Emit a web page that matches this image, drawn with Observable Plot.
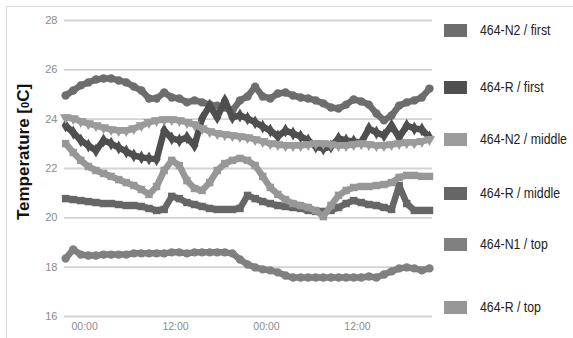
<!DOCTYPE html>
<html><head><meta charset="utf-8">
<script src="https://cdn.jsdelivr.net/npm/d3@7"></script>
<script src="https://cdn.jsdelivr.net/npm/@observablehq/plot@0.6"></script>
<style>
body{margin:0;background:#fff;}
#wrap{position:relative;width:573px;height:338px;overflow:hidden;font-family:"Liberation Sans",Arial,sans-serif;background:#fff}
#frameL{position:absolute;left:6px;top:6px;width:1px;height:340px;background:#dcdcdc}
#frameT{position:absolute;left:6px;top:6px;width:570px;height:1px;background:#dcdcdc}
#chart{position:absolute;left:0;top:0}
#ylab{position:absolute;left:0;top:0}
.leg{position:absolute;left:444px;height:14px;display:flex;align-items:center}
.sw{width:23px;height:13px;flex:none}
.lt{margin-left:13px;font-size:14px;color:#222;transform:scaleX(0.88);transform-origin:left center;white-space:nowrap}
</style></head><body>
<div id="wrap">
  <div id="frameL"></div><div id="frameT"></div>
  <div id="chart"></div>
  <svg id="ylab" width="40" height="338">
    <text transform="translate(29,152) rotate(-90)" text-anchor="middle" font-family="Liberation Sans, Arial, sans-serif" font-weight="bold" font-size="17" fill="#111">Temperature [<tspan font-size="11">0</tspan>C]</text>
  </svg>
  <div id="legend"></div>
</div>
<script>
const hours = [-2.5,-1.5,-0.5,0.5,1.5,2.5,3.5,4.5,5.5,6.5,7.5,8.5,9.5,10.5,11.5,12.5,13.5,14.5,15.5,16.5,17.5,18.5,19.5,20.5,21.5,22.5,23.5,24.5,25.5,26.5,27.5,28.5,29.5,30.5,31.5,32.5,33.5,34.5,35.5,36.5,37.5,38.5,39.5,40.5,41.5,42.5,43.5,44.5,45.5];

const n2First = [24.96,25.16,25.37,25.49,25.61,25.65,25.65,25.57,25.49,25.32,25.16,24.84,24.84,25.08,24.88,24.84,24.68,24.76,24.68,24.59,24.55,24.47,24.35,24.76,24.92,25.32,24.92,24.84,25.04,25.08,24.96,24.88,24.84,24.76,24.64,24.47,24.43,24.59,24.80,24.72,24.59,24.23,23.95,24.15,24.55,24.68,24.76,24.88,25.24];
const rFirst = [23.74,23.46,23.14,22.93,22.73,23.14,23.01,22.85,22.69,22.53,22.45,22.41,22.37,23.54,23.22,23.14,23.26,22.93,24.03,24.55,24.07,24.76,24.07,24.15,24.03,23.87,23.70,23.54,23.30,23.54,23.42,23.30,23.14,22.89,22.81,22.89,23.22,23.14,23.10,23.05,23.62,23.46,23.34,23.74,23.26,23.74,23.62,23.58,23.26];
const n2Middle = [24.07,24.03,23.91,23.82,23.74,23.66,23.58,23.54,23.54,23.62,23.74,23.87,23.95,23.99,23.99,23.95,23.87,23.78,23.62,23.50,23.42,23.38,23.34,23.30,23.26,23.18,23.10,23.01,22.97,22.93,22.93,22.93,22.97,23.01,23.01,22.97,22.93,22.93,22.97,23.01,22.97,22.93,22.93,22.97,23.01,23.05,23.05,23.10,23.18];
const rMiddle = [20.78,20.74,20.70,20.66,20.62,20.58,20.58,20.54,20.50,20.50,20.46,20.38,20.30,20.34,20.87,20.78,20.62,20.54,20.46,20.38,20.34,20.34,20.34,20.38,20.91,20.78,20.66,20.58,20.50,20.46,20.42,20.38,20.30,20.26,20.26,20.30,20.42,20.58,20.70,20.62,20.54,20.50,20.42,20.34,21.31,20.58,20.30,20.30,20.30];
const n1Top = [18.35,18.72,18.51,18.47,18.47,18.51,18.51,18.51,18.51,18.56,18.56,18.56,18.56,18.56,18.60,18.60,18.56,18.60,18.60,18.60,18.60,18.60,18.56,18.31,18.11,17.99,17.91,17.87,17.79,17.66,17.58,17.58,17.58,17.58,17.58,17.58,17.58,17.58,17.58,17.58,17.62,17.58,17.70,17.83,17.95,17.99,17.95,17.87,17.95];
const rTop = [23.01,22.65,22.33,22.08,21.92,21.80,21.68,21.55,21.43,21.31,21.15,20.95,21.27,21.92,22.33,22.12,21.51,21.19,21.11,21.43,21.92,22.20,22.33,22.41,22.33,22.12,21.68,21.23,20.95,20.74,20.58,20.50,20.42,20.30,20.05,20.50,20.91,21.11,21.23,21.27,21.27,21.31,21.35,21.43,21.64,21.72,21.72,21.68,21.68];

const seriesNames = ["464-N2 / first","464-R / first","464-N2 / middle","464-R / middle","464-N1 / top","464-R / top"];
const seriesColors = ["#6d6d6d","#4f4f4f","#9b9b9b","#666666","#808080","#979797"];
const seriesSymbols = ["circle","diamond","triangle","square","circle","square"];
const seriesValues = [n2First, rFirst, n2Middle, rMiddle, n1Top, rTop];
const yTicks = [16,18,20,22,24,26,28];
const xTicks = [0,12,24,36];
const xTickLabels = ["00:00","12:00","00:00","12:00"];
const legendY = [30,87,139,193,244,307];

const rows = [];
seriesValues.forEach((vals, s) => vals.forEach((v, i) => rows.push({s, name: seriesNames[s], t: hours[i], v})));

const marks = [Plot.ruleY(yTicks, {stroke: "#d3d3d3", strokeWidth: 1.8})];
seriesNames.forEach((nm, s) => {
  const d = rows.filter(r => r.s === s);
  marks.push(Plot.line(d, {x: "t", y: "v", stroke: seriesColors[s], strokeWidth: 6.5, curve: "linear", strokeLinejoin: "round"}));
  marks.push(Plot.dot(d, {x: "t", y: "v", fill: seriesColors[s], symbol: () => seriesSymbols[s], r: 4.2, rotate: seriesSymbols[s] === "triangle" ? 180 : 0}));
});

const chart = Plot.plot({
  width: 440, height: 338,
  marginLeft: 64, marginRight: 8, marginTop: 20, marginBottom: 22,
  style: {background: "transparent", fontFamily: "Liberation Sans, Arial, sans-serif"},
  x: {domain: [-2.65, 45.9], label: null},
  y: {domain: [16, 28], label: null},
  marks: [
    ...marks,
    Plot.axisX({ticks: xTicks, tickFormat: (d) => xTickLabels[xTicks.indexOf(d)], tickSize: 0, tickPadding: 6, fill: "#8c8c8c", fontSize: 10.5, label: null}),
    Plot.axisY({ticks: yTicks, tickSize: 0, tickPadding: 7, fill: "#8c8c8c", fontSize: 11, label: null})
  ]
});
document.getElementById("chart").appendChild(chart);

const leg = document.getElementById("legend");
seriesNames.forEach((nm, s) => {
  const e = document.createElement("div");
  e.className = "leg";
  e.style.top = (legendY[s] - 7) + "px";
  e.innerHTML = `<div class="sw" style="background:${seriesColors[s]}"></div><div class="lt">${nm}</div>`;
  leg.appendChild(e);
});
</script>
</body></html>
